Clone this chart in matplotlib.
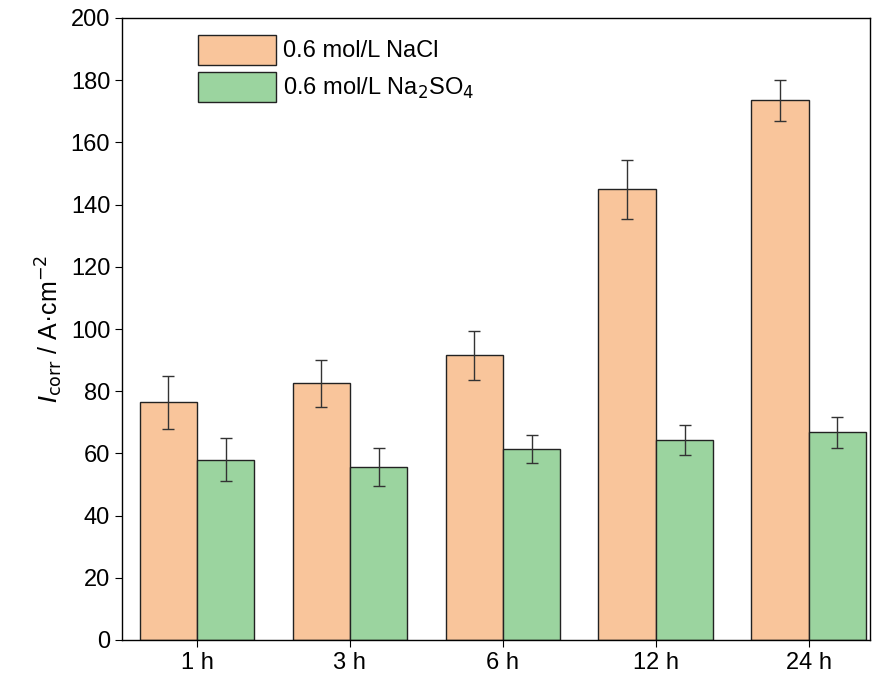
import numpy as np
import matplotlib
matplotlib.use("Agg")
import matplotlib.pyplot as plt

times = ["1 h", "3 h", "6 h", "12 h", "24 h"]
nacl = [76.5, 82.5, 91.5, 145.0, 173.5]
nacl_err = [8.5, 7.5, 8.0, 9.5, 6.7]
na2so4 = [58.0, 55.6, 61.5, 64.3, 66.8]
na2so4_err = [7.0, 6.0, 4.5, 4.7, 5.0]

plt.rcParams['font.family'] = ['Liberation Sans', 'DejaVu Sans']
fig = plt.figure(figsize=(8.86, 6.81), dpi=100)
ax = fig.add_axes([122/886, 41/681, 748/886, 622/681])

x = np.arange(len(times))
w = 0.375
ekw = dict(ecolor='#333333', elinewidth=1, capsize=4, capthick=1)
ax.bar(x - w/2, nacl, w, yerr=nacl_err, color='#F9C59B', edgecolor='#222222',
       linewidth=1, label='0.6 mol/L NaCl', error_kw=ekw)
ax.bar(x + w/2, na2so4, w, yerr=na2so4_err, color='#9BD49F', edgecolor='#222222',
       linewidth=1, label='0.6 mol/L Na$_2$SO$_4$', error_kw=ekw)

ax.set_xlim(-0.49, 4.4)
ax.set_ylim(0, 200)
ax.set_yticks(range(0, 201, 20))
ax.set_xticks(x)
ax.set_xticklabels(times)
ax.tick_params(labelsize=17, direction='out', length=5)
ax.set_ylabel(r'$I_{\rm corr}$ / A·cm$^{-2}$', fontsize=18)
for s in ax.spines.values():
    s.set_linewidth(1)
ax.legend(loc='upper left', bbox_to_anchor=(0.08, 1.0), fontsize=17, frameon=False,
          handlelength=3.3, handleheight=1.6, borderaxespad=0.3, labelspacing=0.3,
          handletextpad=0.3)
fig.savefig("out.png", dpi=100)
